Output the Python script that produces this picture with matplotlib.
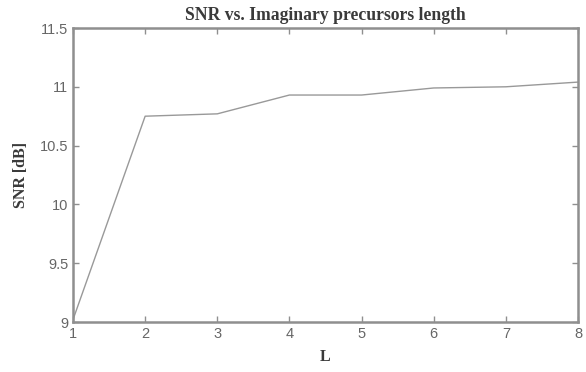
import numpy as np
import matplotlib.pyplot as plt

L = [1, 2, 3, 4, 5, 6, 7, 8]
snr = [9.02, 10.75, 10.77, 10.93, 10.93, 10.99, 11.0, 11.04]
xticks = [1, 2, 3, 4, 5, 6, 7, 8]
yticks = [9, 9.5, 10, 10.5, 11, 11.5]
ytick_labels = ["9", "9.5", "10", "10.5", "11", "11.5"]

axis_col = "#8f8f8f"
tick_text_col = "#666666"
label_col = "#3a3a3a"


def main():
    fig = plt.figure(figsize=(5.86, 3.72), dpi=100)
    ax = fig.add_axes([73 / 586, 1 - 322 / 372, (578 - 73) / 586, (322 - 28) / 372])

    ax.plot(L, snr, color="#999999", linewidth=1.0)

    ax.set_xlim(1, 8)
    ax.set_ylim(9, 11.5)
    ax.set_xticks(xticks)
    ax.set_yticks(yticks)
    ax.set_yticklabels(ytick_labels)

    for s in ax.spines.values():
        s.set_color(axis_col)
        s.set_linewidth(1.8)
    ax.tick_params(direction="in", length=4, width=1.0, color=axis_col,
                   top=True, right=True, labelcolor=tick_text_col, labelsize=10.5)
    for lab in ax.get_xticklabels() + ax.get_yticklabels():
        lab.set_family("Liberation Sans")

    ax.set_title("SNR vs. Imaginary precursors length", fontsize=12.7,
                 family="Liberation Serif", fontweight="bold", color=label_col, pad=6)
    ax.set_xlabel("L", fontsize=11.5, family="Liberation Serif", fontweight="bold",
                  color=label_col, labelpad=6)
    ax.set_ylabel("SNR [dB]", fontsize=11.5, family="Liberation Serif", fontweight="bold",
                  color=label_col, labelpad=8)

    fig.savefig("out.png", dpi=100)


if __name__ == "__main__":
    main()
